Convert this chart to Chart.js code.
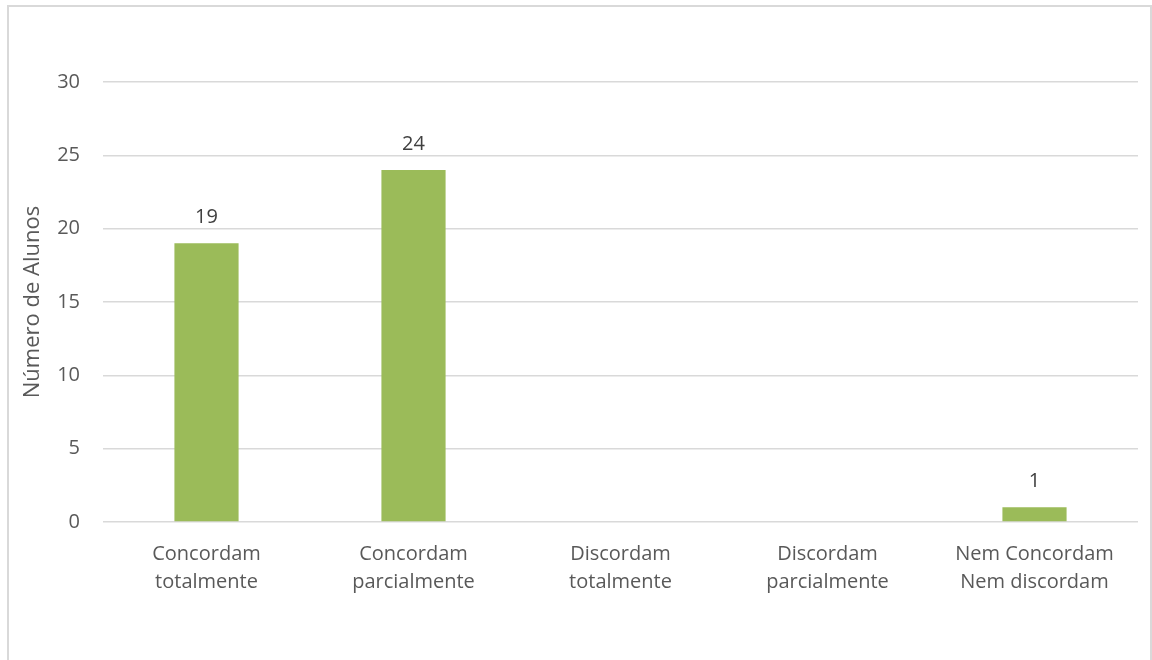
<!DOCTYPE html>
<html lang="pt">
<head>
    <meta charset="UTF-8">
    <title>Número de Alunos</title>
    <script src="https://cdn.jsdelivr.net/npm/chart.js"></script>
    <style>
        body {
            margin: 0;
            background: #ffffff;
            font-family: "Open Sans", Arial, sans-serif;
        }
        .frame {
            position: absolute;
            left: 7px;
            top: 5px;
            width: 1141px;
            height: 700px;
            border: 2px solid #d9d9d9;
        }
        .chart-container {
            position: absolute;
            left: 0;
            top: 0;
            width: 1152px;
            height: 660px;
        }
    </style>
</head>
<body>
    <div class="frame"></div>
    <div class="chart-container">
        <canvas id="barChart"></canvas>
    </div>

    <script>
        const categories = [
            ['Concordam', 'totalmente'],
            ['Concordam', 'parcialmente'],
            ['Discordam', 'totalmente'],
            ['Discordam', 'parcialmente'],
            ['Nem Concordam', 'Nem discordam']
        ];
        const alunos = [19, 24, 0, 0, 1];
        const yTicks = [0, 5, 10, 15, 20, 25, 30];

        const fontFamily = '"Open Sans", Arial, sans-serif';

        // labels above each bar (skip zeros, as in the original)
        const valueLabels = {
            id: 'valueLabels',
            afterDatasetsDraw(chart) {
                const ctx = chart.ctx;
                const meta = chart.getDatasetMeta(0);
                ctx.save();
                ctx.font = '20px ' + fontFamily;
                ctx.fillStyle = '#404040';
                ctx.textAlign = 'center';
                ctx.textBaseline = 'middle';
                meta.data.forEach((bar, i) => {
                    if (!alunos[i]) return;
                    ctx.fillText(alunos[i], bar.x, bar.y - 26);
                });
                ctx.restore();
            }
        };

        const ctx = document.getElementById('barChart').getContext('2d');
        new Chart(ctx, {
            type: 'bar',
            data: {
                labels: categories,
                datasets: [{
                    label: 'Número de Alunos',
                    data: alunos,
                    backgroundColor: '#9bbb59',
                    categoryPercentage: 1.0,
                    barPercentage: 0.31
                }]
            },
            options: {
                responsive: true,
                maintainAspectRatio: false,
                animation: false,
                layout: {
                    padding: { left: 20, right: 14, top: 82, bottom: 54 }
                },
                plugins: {
                    legend: { display: false },
                    tooltip: { enabled: false }
                },
                scales: {
                    x: {
                        grid: { display: false },
                        border: { display: false },
                        ticks: {
                            color: '#595959',
                            font: { size: 20, family: fontFamily, lineHeight: 1.4 },
                            maxRotation: 0,
                            padding: 10
                        }
                    },
                    y: {
                        min: 0,
                        max: 30,
                        afterBuildTicks(axis) {
                            axis.ticks = yTicks.map(v => ({ value: v }));
                        },
                        afterFit(axis) {
                            axis.width = 83;
                        },
                        grid: {
                            color: '#d9d9d9',
                            lineWidth: 1.5,
                            drawTicks: false
                        },
                        border: { display: false },
                        ticks: {
                            color: '#595959',
                            font: { size: 20, family: fontFamily },
                            padding: 23
                        },
                        title: {
                            display: true,
                            text: 'Número de Alunos',
                            color: '#595959',
                            font: { size: 22, family: fontFamily },
                            padding: { top: 0, bottom: 0 }
                        }
                    }
                }
            },
            plugins: [valueLabels]
        });
    </script>
</body>
</html>
